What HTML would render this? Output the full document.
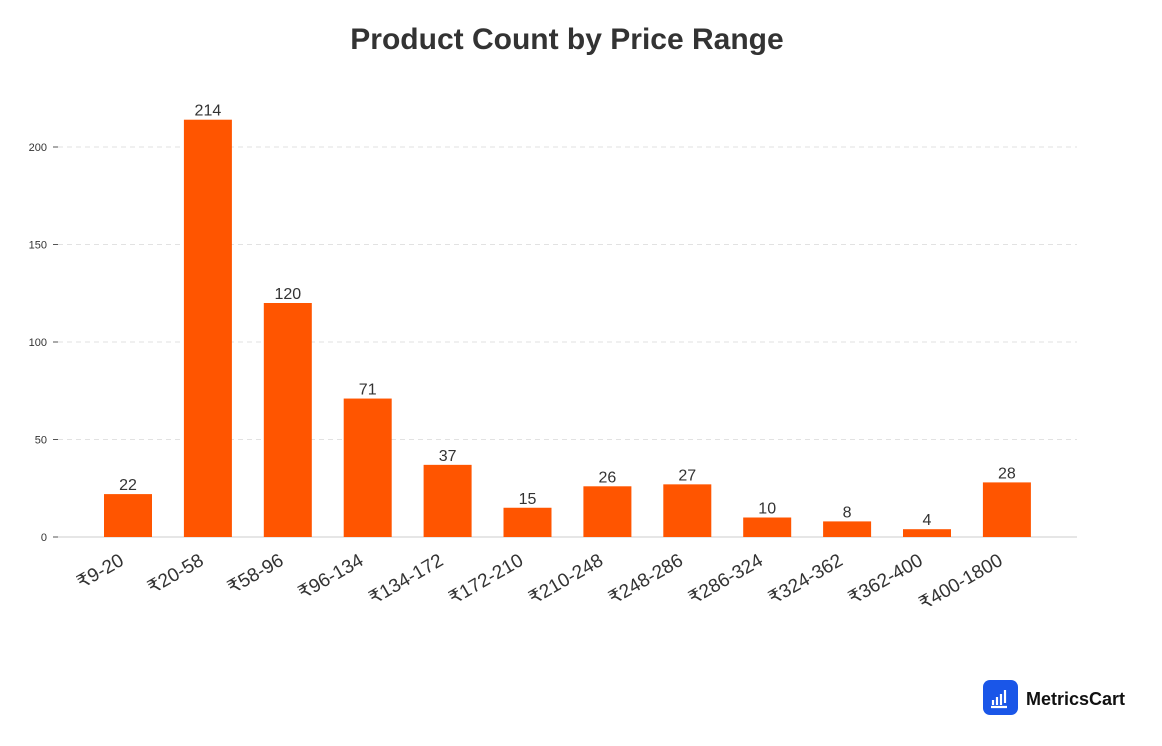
<!DOCTYPE html>
<html><head><meta charset="utf-8"><style>
body{margin:0;background:#fff;}
svg{display:block;font-family:"Liberation Sans","DejaVu Sans",sans-serif;}
</style></head><body>
<svg id="chart" width="1162" height="746">
<text x="567" y="49" text-anchor="middle" font-size="30" font-weight="bold" fill="#333">Product Count by Price Range</text>
<g id="grid"></g><g id="bars"></g><g id="xlabels"></g>
<g>
<rect x="983" y="680" width="35" height="35" rx="7" fill="#1a56e8"/>
<path d="M993 700v5M997 697v8M1001 694v11M1005 690v13M991 707h16" stroke="#fff" stroke-width="2.2" fill="none"/>
<text x="1026" y="705" font-size="18" font-weight="bold" fill="#111">MetricsCart</text>
</g>
</svg>
<script>
const categories=["₹9-20","₹20-58","₹58-96","₹96-134","₹134-172","₹172-210","₹210-248","₹248-286","₹286-324","₹324-362","₹362-400","₹400-1800"];
const counts=[22,214,120,71,37,15,26,27,10,8,4,28];
const yTicks=[0,50,100,150,200];
const NS="http://www.w3.org/2000/svg";
const y0=537,pxPer=1.95,x0=128,step=79.9,bw=48;
const yS=v=>y0-v*pxPer, xS=i=>x0+i*step;
function mk(t,a,p){const e=document.createElementNS(NS,t);for(const k in a)e.setAttribute(k,a[k]);p.appendChild(e);return e;}
const grid=document.getElementById('grid'),bars=document.getElementById('bars'),xl=document.getElementById('xlabels');
yTicks.forEach(v=>{
 const y=yS(v);
 if(v>0){const g=mk('line',{x1:58,x2:1077,y1:y,y2:y,stroke:'#e2e2e2','stroke-dasharray':'5,4'},grid);
 
 }
 mk('line',{x1:53,x2:58,y1:y,y2:y,stroke:'#555'},grid);
 const t=mk('text',{x:47,y:y+4,'text-anchor':'end','font-size':11,fill:'#333'},grid);t.textContent=v;
 
 
});
const ax=mk('line',{x1:58,x2:1077,y1:y0,y2:y0,stroke:'#ccc'},grid);


counts.forEach((v,i)=>{
 const cx=xS(i);
 const r=mk('rect',{x:cx-bw/2,y:yS(v),width:bw,height:v*pxPer,fill:'#ff5500'},bars);
 
 
 const t=mk('text',{x:cx,y:yS(v)-4,'text-anchor':'middle','font-size':16,fill:'#333'},bars);t.textContent=v;
 
 
 const l=mk('text',{x:cx-3,y:564,'text-anchor':'end','font-size':19,fill:'#333',transform:`rotate(-30 ${cx-3} 564)`},xl);l.textContent=categories[i];
 
 
});
</script>
</body></html>
